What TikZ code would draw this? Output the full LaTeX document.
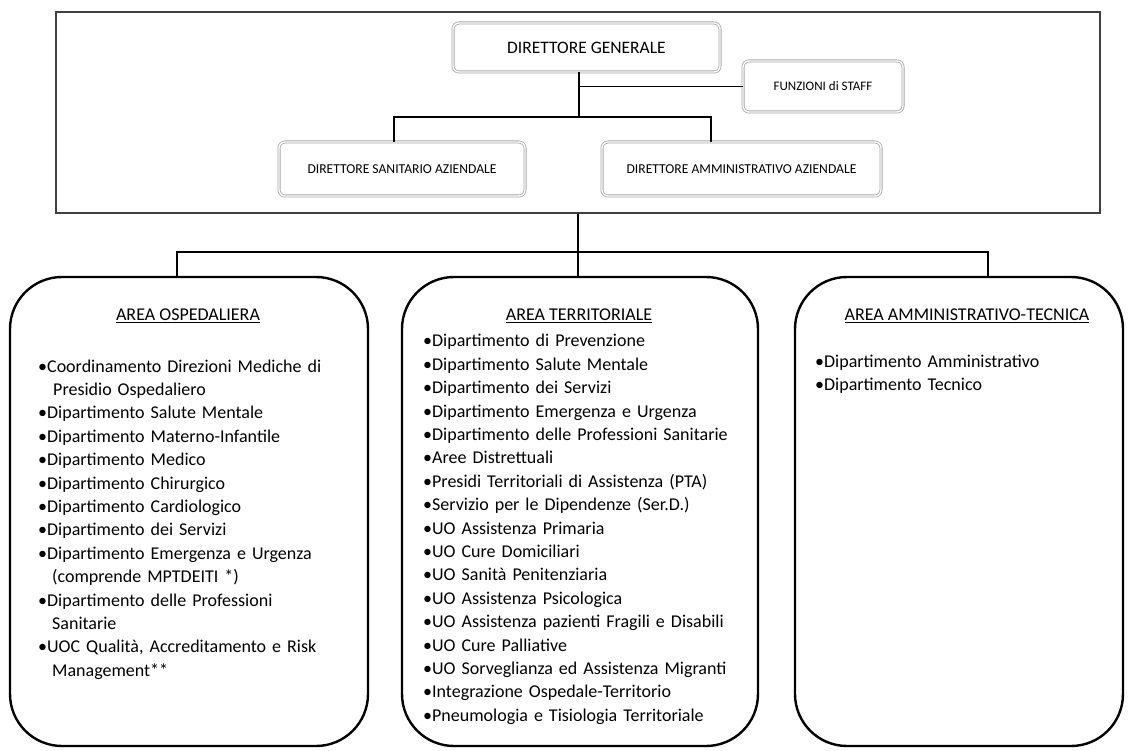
\documentclass[tikz,border=0pt]{standalone}
\usepackage{fontspec}
\setmainfont{Carlito}
\begin{document}
\begin{tikzpicture}[x=1pt,y=-1pt,
  topbox/.style={draw=gray!70, double=white, double distance=1.4pt, line width=0.8pt,
    rounded corners=6pt, fill=white, inner sep=0pt, align=center},
  areabox/.style={draw=black, line width=2.4pt, rounded corners=52pt, inner sep=0pt},
  conn/.style={draw=black, line width=1.4pt},
  listtext/.style={inner sep=0pt, anchor=base west, align=left,
    font=\fontsize{18}{23.4}\selectfont, text width=#1},
  areatitle/.style={inner sep=0pt, anchor=base, font=\fontsize{18}{22}\selectfont},
]
\useasboundingbox (0,0) rectangle (1130,751);
\fill[white] (0,0) rectangle (1130,751);

% top frame
\node[draw=black!75, line width=1.3pt, minimum width=1044pt, minimum height=201pt, inner sep=0pt] (top) at (578,112.5) {};

\node[topbox, minimum width=267pt, minimum height=49pt, font=\fontsize{17.5}{20}\selectfont] (dg) at (586.5,47.5) {DIRETTORE GENERALE};
\node[topbox, minimum width=160pt, minimum height=51pt, font=\fontsize{13}{15}\selectfont] (staff) at (823,86.5) {FUNZIONI di STAFF};
\node[topbox, minimum width=246pt, minimum height=54pt, font=\fontsize{13.6}{15}\selectfont] (dsa) at (402,169) {DIRETTORE SANITARIO AZIENDALE};
\node[topbox, minimum width=279pt, minimum height=54pt, font=\fontsize{13.6}{15}\selectfont] (daa) at (741.5,169) {DIRETTORE AMMINISTRATIVO AZIENDALE};

\coordinate (j1) at (579,86.5);
\coordinate (j2) at (579,117);
\coordinate (cl) at (394,117);
\coordinate (cr) at (711,117);
\draw[conn] (dg.south -| j1) -- (j2);
\draw[conn] (j1) -- (staff.west);
\draw[conn] (dsa.north -| cl) -- (cl) -- (cr) -- (daa.north -| cr);

% area boxes
\node[areabox, minimum width=358pt, minimum height=469pt] (ao) at (189,511.5) {};
\node[areabox, minimum width=356pt, minimum height=469pt] (at) at (580,511.5) {};
\node[areabox, minimum width=328pt, minimum height=469pt] (aa) at (959,511.5) {};

\coordinate (k0) at (578,252);
\coordinate (kl) at (177,252);
\coordinate (kr) at (988,252);
\draw[conn] (top.south -| k0) -- (at.north -| k0);
\draw[conn] (ao.north -| kl) -- (kl) -- (kr) -- (aa.north -| kr);

\node[areatitle] (t1) at (188,321) {\underline{AREA OSPEDALIERA}};
\node[areatitle] (t2) at (579,321) {\underline{AREA TERRITORIALE}};
\node[areatitle] (t3) at (967,321) {\underline{AREA AMMINISTRATIVO-TECNICA}};

\node[listtext=320pt] (l1) at (38,372) {%
\makebox[295pt][s]{•Coordinamento Direzioni Mediche di}\\
\hspace*{15pt}Presidio Ospedaliero\\
•Dipartimento Salute Mentale\\
•Dipartimento Materno-Infantile\\
•Dipartimento Medico\\
•Dipartimento Chirurgico\\
•Dipartimento Cardiologico\\
•Dipartimento dei Servizi\\
•Dipartimento Emergenza e Urgenza\\
\hspace*{14pt}(comprende MPTDEITI *)\\
•Dipartimento delle Professioni\\
\hspace*{14pt}Sanitarie\\
•UOC Qualità, Accreditamento e Risk\\
\hspace*{14pt}Management**};

\node[listtext=340pt] (l2) at (423,347) {%
•Dipartimento di Prevenzione\\
•Dipartimento Salute Mentale\\
•Dipartimento dei Servizi\\
•Dipartimento Emergenza e Urgenza\\
•Dipartimento delle Professioni Sanitarie\\
•Aree Distrettuali\\
•Presidi Territoriali di Assistenza (PTA)\\
•Servizio per le Dipendenze (Ser.D.)\\
•UO Assistenza Primaria\\
•UO Cure Domiciliari\\
•UO Sanità Penitenziaria\\
•UO Assistenza Psicologica\\
•UO Assistenza pazienti Fragili e Disabili\\
•UO Cure Palliative\\
•UO Sorveglianza ed Assistenza Migranti\\
•Integrazione Ospedale-Territorio\\
•Pneumologia e Tisiologia Territoriale};

\node[listtext=300pt] (l3) at (815,367) {%
•Dipartimento Amministrativo\\
•Dipartimento Tecnico};
\end{tikzpicture}
\end{document}
